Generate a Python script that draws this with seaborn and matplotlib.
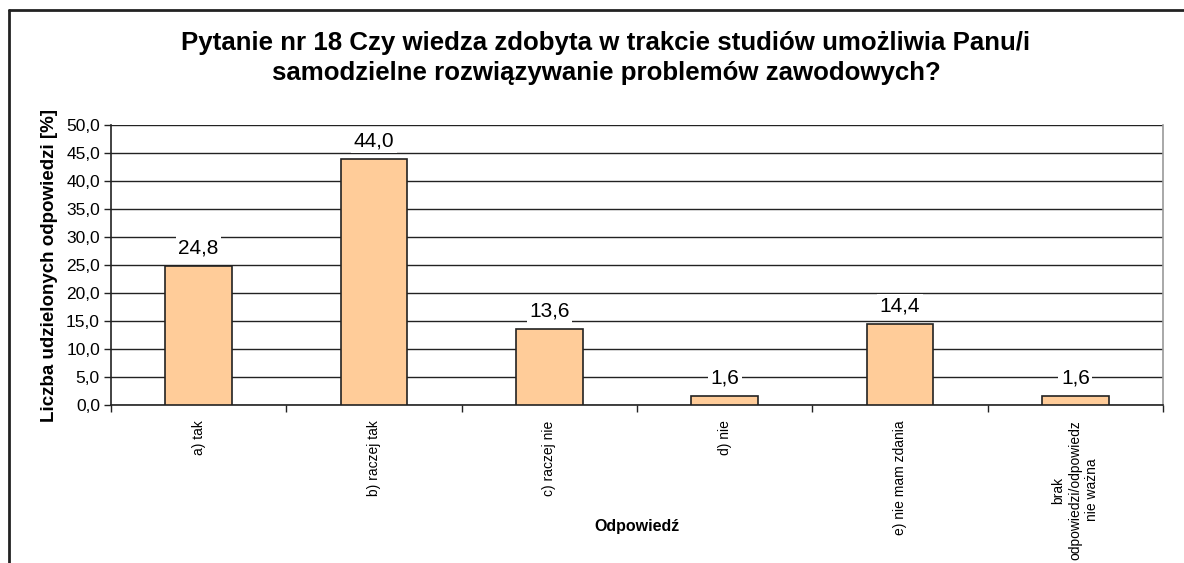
import numpy as np
import pandas as pd
import matplotlib
matplotlib.use("Agg")
import matplotlib.pyplot as plt
import seaborn as sns
from matplotlib.lines import Line2D
from matplotlib.ticker import MultipleLocator, FixedLocator

# data
categories = ["a) tak", "b) raczej tak", "c) raczej nie", "d) nie",
              "e) nie mam zdania", "brak\nodpowiedzi/odpowiedz\nnie ważna"]
values = [24.8, 44.0, 13.6, 1.6, 14.4, 1.6]
title = ("Pytanie nr 18 Czy wiedza zdobyta w trakcie studiów umożliwia Panu/i\n"
         "samodzielne rozwiązywanie problemów zawodowych?")

sns.set_style("white")
plt.rcParams['font.family'] = ['Liberation Sans', 'DejaVu Sans']
plt.rcParams['text.color'] = 'black'
plt.rcParams['xtick.color'] = 'black'
plt.rcParams['ytick.color'] = 'black'
plt.rcParams['axes.labelcolor'] = 'black'

df = pd.DataFrame({"odp": categories, "val": values})

fig = plt.figure(figsize=(11.84, 5.63), dpi=100)
W, H = 1184, 563
ax = fig.add_axes([111 / W, 1 - 405 / H, (1163 - 111) / W, (405 - 125) / H])

sns.barplot(data=df, x="odp", y="val", color="#FFCC99", edgecolor="#222222",
            linewidth=1.2, width=0.38, saturation=1, ax=ax, zorder=3)

ax.set_ylim(0, 50)
ax.set_xlim(-0.5, len(categories) - 0.5)
ax.yaxis.set_major_locator(MultipleLocator(5))
ax.set_yticklabels([f"{t:.1f}".replace(".", ",") for t in ax.get_yticks()])
ax.grid(axis="y", color="#222222", linewidth=1, zorder=0)
ax.set_axisbelow(True)

# ticks between categories, labels at the centres
ax.xaxis.set_minor_locator(FixedLocator(np.arange(-0.5, len(categories), 1)))
ax.tick_params(axis="x", which="major", length=0, pad=11, labelsize=10, labelrotation=90)
ax.tick_params(axis="x", which="minor", length=5, width=1, color="#222222", direction="out")
ax.tick_params(axis="y", length=5, width=1, color="#222222", direction="out", labelsize=12.5, pad=3)
ax.xaxis.set_ticks_position("bottom")
ax.yaxis.set_ticks_position("left")
for lab in ax.get_xticklabels():
    lab.set_verticalalignment("top")
    lab.set_multialignment("center")
    lab.set_linespacing(1.25)

ax.spines["top"].set_visible(False)
ax.spines["left"].set_color("#222222")
ax.spines["bottom"].set_color("#222222")
ax.spines["right"].set_color("#999999")
for s in ["left", "bottom", "right"]:
    ax.spines[s].set_linewidth(1.2)

for i, v in enumerate(values):
    ax.annotate(f"{v:.1f}".replace(".", ","), (i, v), xytext=(0, 13),
                textcoords="offset points", ha="center", va="center", fontsize=15,
                bbox=dict(boxstyle="square,pad=0.12", fc="white", ec="none"), zorder=4)

ax.set_xlabel("")
ax.set_ylabel("Liczba udzielonych odpowiedzi [%]", fontsize=13.5, fontweight="bold", labelpad=6)
fig.text(637 / W, 1 - 526 / H, "Odpowiedź", ha="center", va="center",
         fontsize=11.5, fontweight="bold")

fig.text(606 / W, 1 - 58 / H, title, ha="center", va="center", fontsize=18.6,
         fontweight="bold", linespacing=1.35)

# chart frame (only left and top edges fall inside the picture)
fig.add_artist(Line2D([9 / W, 9 / W], [0, 1 - 10 / H], color="#222222", lw=2, transform=fig.transFigure))
fig.add_artist(Line2D([9 / W, 1], [1 - 10 / H, 1 - 10 / H], color="#222222", lw=2, transform=fig.transFigure))

fig.savefig("out.png", dpi=100)
